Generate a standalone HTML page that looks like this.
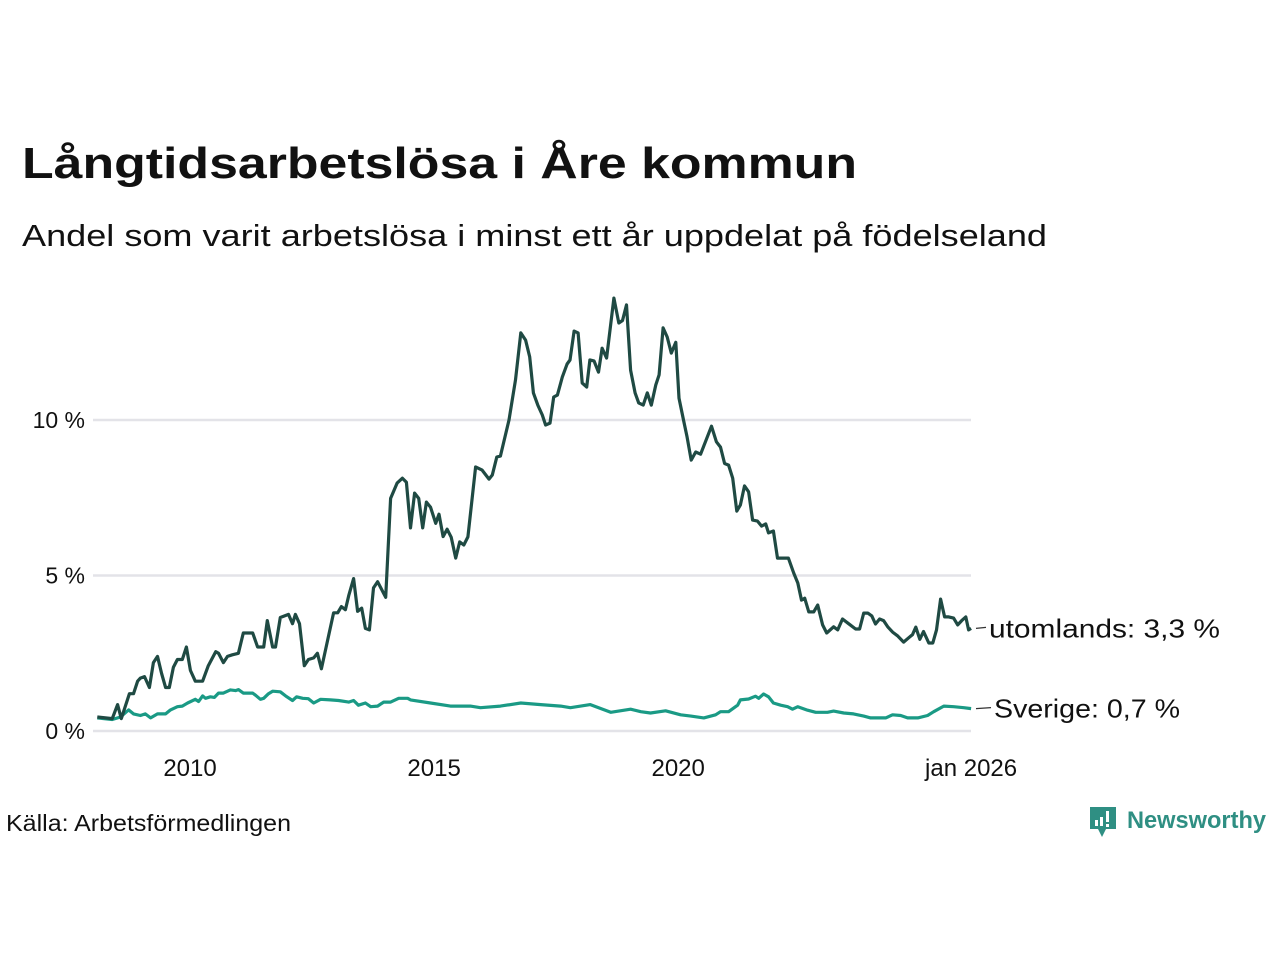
<!DOCTYPE html>
<html><head><meta charset="utf-8"><style>
html,body{margin:0;padding:0;background:#fff;}
svg{display:block;font-family:"Liberation Sans",sans-serif;}
</style></head><body>
<svg id="chart" width="1280" height="960">
<text x="22" y="178" font-size="44" font-weight="bold" fill="#111" textLength="835" lengthAdjust="spacingAndGlyphs">Långtidsarbetslösa i Åre kommun</text>
<text x="22" y="246" font-size="31" fill="#111" textLength="1025" lengthAdjust="spacingAndGlyphs">Andel som varit arbetslösa i minst ett år uppdelat på födelseland</text>
<g id="grid"></g>
<g id="yt"></g>
<g id="xt"></g>
<g id="lines"></g>
<text x="6" y="831" font-size="23" fill="#111" textLength="285" lengthAdjust="spacingAndGlyphs">Källa: Arbetsförmedlingen</text>
<g>
<path d="M1090 807 h26 v22 h-10 l-4 8 l-4 -8 h-8 z" fill="#2f8f83"/>
<rect x="1095" y="820" width="3" height="6" fill="#fff"/><rect x="1100" y="817" width="3" height="9" fill="#fff"/><rect x="1106" y="811" width="3" height="11" fill="#fff"/><rect x="1106" y="824" width="3" height="3" fill="#fff"/>
<text x="1127" y="828" font-size="24" font-weight="bold" fill="#2f8f83" textLength="139" lengthAdjust="spacingAndGlyphs">Newsworthy</text>
</g>
</svg>
<script>
const darkMonths=[0.2,3.9,5.2,6.1,8.1,9.1,10.1,10.8,11.8,13,14,15,16,17,17.9,18.9,19.9,21.1,22.1,23.1,24.3,26.1,27.5,29.3,30,31.2,32.2,33.4,34.9,36.1,38.4,39.6,41.1,42,43.3,44,45.2,47.2,48.2,48.9,49.9,51.1,52.1,53.4,54.3,55.3,56.8,58.3,59.3,60.2,61.2,62,63.2,64.2,65.2,66.1,67.1,68.1,69.1,71.1,72.3,73.9,75.2,76.2,77.2,78.2,79.2,80.2,81.1,82.1,83.4,84.2,85.2,86.2,87.2,88.3,89.3,90.3,91.3,93.2,94.8,96.5,97.3,98.4,99.3,101.4,103,104.3,105.5,106.5,107.4,108.5,109.6,110.4,111.5,112.4,113.3,114.5,115.7,116.4,117.4,118.4,119.4,120.5,121.3,122.3,123.4,124.3,125.4,127.2,128.4,129.3,130.3,131.3,132.4,133.3,134.4,135.4,136.4,137.5,138.3,139.3,140.3,141.3,142.4,143.2,144.3,145.2,146.2,147.3,148.5,151.2,152.4,153.4,154.4,155.4,156.4,157.4,158.3,159.3,160.3,161.3,162.5,163.5,164.5,165.2,166.4,167.4,170.1,171.4,172.4,173.3,174.1,175.1,176.3,177.3,178.5,179.5,181.2,182.2,183.4,184.9,186.6,187.6,188.6,189.6,190.6,191.5,192.5,193.5,194.5,195.7,196.9,198.4,199.7,200.6,201.4,202.4,203.3,204.6,205.6,206.5,207.5,208.5,209.5,210.7,211.7,212.7,213.7,214.4,215];
const darkValues=[0.45,0.4,0.85,0.4,1.2,1.2,1.6,1.7,1.75,1.4,2.2,2.4,1.85,1.4,1.4,2.05,2.3,2.3,2.7,1.95,1.6,1.6,2.1,2.55,2.5,2.2,2.4,2.45,2.5,3.15,3.15,2.7,2.7,3.55,2.7,2.7,3.65,3.75,3.45,3.75,3.45,2.1,2.3,2.35,2.5,2.0,2.9,3.8,3.8,4.0,3.9,4.35,4.9,3.85,3.95,3.3,3.25,4.6,4.8,4.3,7.48,7.97,8.13,8.0,6.53,7.65,7.48,6.53,7.36,7.2,6.68,6.97,6.25,6.49,6.23,5.56,6.08,5.98,6.24,8.49,8.39,8.1,8.23,8.81,8.84,10.0,11.29,12.8,12.57,12.03,10.87,10.48,10.16,9.84,9.9,10.74,10.8,11.38,11.8,11.93,12.86,12.8,11.19,11.06,11.93,11.9,11.54,12.31,11.99,13.92,13.12,13.2,13.7,11.6,10.87,10.55,10.48,10.87,10.48,11.13,11.45,12.96,12.67,12.15,12.5,10.7,10.0,9.45,8.71,8.97,8.9,9.8,9.3,9.13,8.6,8.55,8.13,7.07,7.27,7.88,7.69,6.78,6.75,6.59,6.66,6.37,6.43,5.56,5.56,5.08,4.76,4.21,4.27,3.83,3.83,4.05,3.41,3.15,3.35,3.25,3.6,3.45,3.28,3.28,3.79,3.79,3.7,3.44,3.6,3.55,3.35,3.18,3.06,2.86,3.0,3.1,3.34,2.95,3.2,2.83,2.83,3.25,4.24,3.67,3.67,3.63,3.41,3.55,3.67,3.25,3.3];
const greenMonths=[0.2,3.9,5.9,7.9,9.1,10.8,12,13.3,15,17,18.2,19.9,21.1,22.4,24.3,25.1,26.1,26.8,28,29,30,31.2,32.9,34.2,34.9,36.1,37.1,38.4,39.1,40.3,41.1,42.3,43.3,45.2,46.5,48.2,49.2,50.7,52.1,53.4,55.1,57.5,59.5,62,63.2,64.4,66.1,67.4,69.1,70.6,72.3,74.3,76.5,77.2,82.1,87,91.9,94.4,99.3,104.3,109.2,114.1,116.5,121.4,126.4,131.3,133.8,136.2,139.9,143.6,146.1,149.3,152.2,153.4,155.4,157.6,158.3,160.3,162,162.8,164,165.2,166.4,168.2,169.9,171.1,172.4,174.8,176.8,179.7,181.2,183.7,186.1,188.6,190.3,194,195.7,197.7,199.4,201.9,204.3,205.8,208.3,210.7,213.2,215];
const greenValues=[0.42,0.37,0.45,0.68,0.55,0.5,0.55,0.42,0.55,0.55,0.68,0.78,0.8,0.9,1.02,0.95,1.13,1.05,1.1,1.08,1.22,1.22,1.32,1.3,1.33,1.22,1.22,1.22,1.15,1.02,1.05,1.2,1.28,1.26,1.13,0.98,1.1,1.05,1.04,0.9,1.02,1.0,0.98,0.93,0.98,0.83,0.9,0.78,0.8,0.93,0.93,1.05,1.05,1.0,0.9,0.8,0.8,0.75,0.8,0.9,0.85,0.8,0.75,0.85,0.6,0.7,0.62,0.58,0.65,0.52,0.48,0.42,0.52,0.62,0.62,0.83,1.0,1.03,1.12,1.05,1.19,1.1,0.9,0.83,0.78,0.7,0.78,0.67,0.6,0.6,0.64,0.58,0.55,0.48,0.42,0.42,0.52,0.5,0.42,0.42,0.5,0.62,0.8,0.78,0.75,0.72];
const yTicks=[0,5,10];
const yTickLabels=["0 %","5 %","10 %"];
const xTicks=[24,84,144,216];
const xTickLabels=["2010","2015","2020","jan 2026"];
const seriesLabels=["utomlands: 3,3 %","Sverige: 0,7 %"];

const NS="http://www.w3.org/2000/svg";
// x scale: months since Jan 2008; data series start Feb 2008 (offset 1)
const X0=92.4, PXPM=4.068, Y0=731, PXPCT=31.1, DATA_OFFSET=1;
const xs=m=>X0+PXPM*m;
const ys=v=>Y0-v*PXPCT;
function mk(tag,attrs,parent){const e=document.createElementNS(NS,tag);for(const k in attrs)e.setAttribute(k,attrs[k]);parent.appendChild(e);return e;}
const grid=document.getElementById('grid'),yt=document.getElementById('yt'),xt=document.getElementById('xt'),lines=document.getElementById('lines');
yTicks.forEach((t,i)=>{
  const l=mk('line',{x1:93,x2:971,y1:ys(t),y2:ys(t),stroke:'#e3e3e8','stroke-width':2.5},grid);
  
  
  const tx=mk('text',{x:85,y:ys(t)+8,'font-size':23,'text-anchor':'end',fill:'#111'},yt);
  tx.textContent=yTickLabels[i];
  
  
});
xTicks.forEach((t,i)=>{
  const tx=mk('text',{x:xs(t),y:776,'font-size':24,'text-anchor':'middle',fill:'#111'},xt);
  tx.textContent=xTickLabels[i];
  
  
});
function drawLine(months,vals,color,name){
  const d=months.map((m,i)=>(i?'L':'M')+xs(m+DATA_OFFSET).toFixed(1)+' '+ys(vals[i]).toFixed(1)).join(' ');
  const p=mk('path',{d:d,fill:'none',stroke:color,'stroke-width':3.2,'stroke-linejoin':'round'},lines);
  
  
}
drawLine(greenMonths,greenValues,'#1a9a85','line-sverige');
drawLine(darkMonths,darkValues,'#1f4a43','line-utomlands');
function endLabel(v,text,name,x,len){
  const y=ys(v)+9;
  const dash=mk('line',{x1:976,x2:x-3,y1:ys(v),y2:ys(v)-1,stroke:'#333','stroke-width':1.3},lines);
  
  
  const tx=mk('text',{x:x,y:y,'font-size':26,fill:'#111',textLength:len,lengthAdjust:'spacingAndGlyphs'},lines);
  tx.textContent=text;
  
  
}
endLabel(darkValues[darkValues.length-1],seriesLabels[0],'label-utomlands',989,231);
endLabel(greenValues[greenValues.length-1],seriesLabels[1],'label-sverige',994,186);
</script>
</body></html>
